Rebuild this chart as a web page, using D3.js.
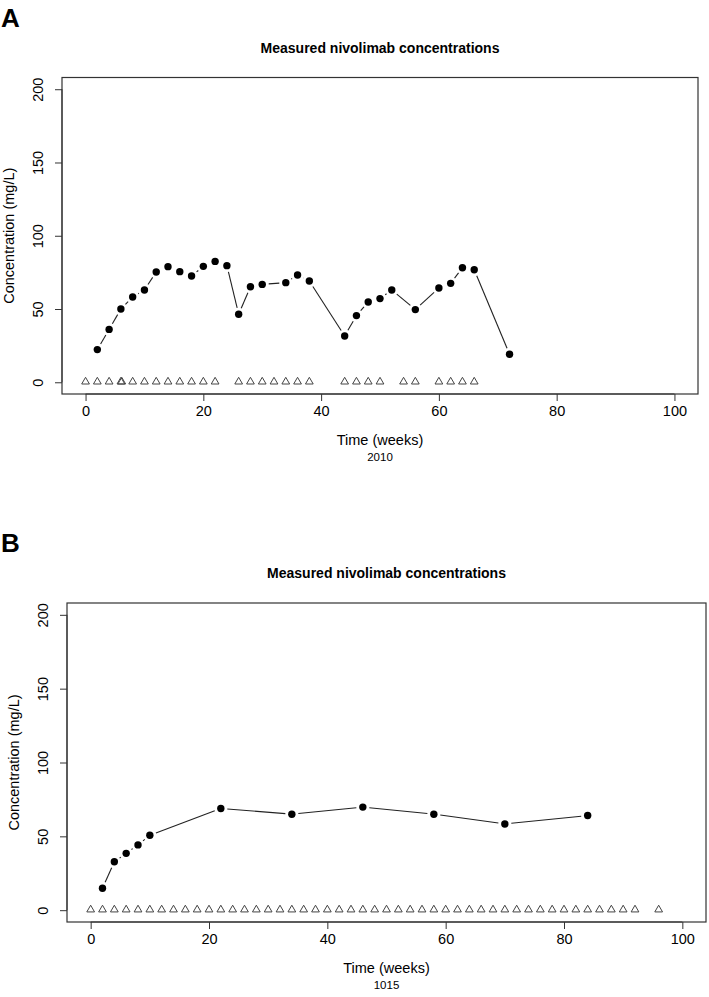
<!DOCTYPE html>
<html>
<head>
<meta charset="utf-8">
<script src="https://cdn.jsdelivr.net/npm/d3@7"></script>
<style>
  html, body { margin: 0; padding: 0; background: #fff; }
  svg { display: block; font-family: "Liberation Sans", Arial, sans-serif; }
</style>
</head>
<body>
<svg id="chart" width="709" height="997"></svg>
<script>
// ---- Data ----
const panelLabels = ["A", "B"];
const titleText = "Measured nivolimab concentrations";
const xLabel = "Time (weeks)";
const yLabel = "Concentration (mg/L)";
const subLabels = ["2010", "1015"];
const xTicks = [0, 20, 40, 60, 80, 100];
const yTicks = [0, 50, 100, 150, 200];

// Panel A: measured concentrations
const timeA = [2, 4, 6, 8, 10, 12, 14, 16, 18, 20, 22, 24, 26, 28, 30, 34, 36, 38, 44, 46, 48, 50, 52, 56, 60, 62, 64, 66, 72];
const concA = [22.3, 36.1, 50.0, 58.2, 63.0, 75.3, 78.9, 75.5, 72.5, 79.1, 82.5, 79.6, 46.4, 65.2, 66.8, 68.0, 73.2, 69.1, 31.6, 45.5, 54.8, 57.1, 63.0, 49.6, 64.3, 67.5, 78.2, 76.8, 19.1];
// Panel A: dosing times
const doseA = [0, 2, 4, 6, 6.15, 8, 10, 12, 14, 16, 18, 20, 22, 26, 28, 30, 32, 34, 36, 38, 44, 46, 48, 50, 54, 56, 60, 62, 64, 66];

// Panel B: measured concentrations
const timeB = [2, 4, 6, 8, 10, 22, 34, 46, 58, 70, 84];
const concB = [14.9, 32.8, 38.5, 44.2, 50.7, 68.9, 65.0, 69.8, 65.0, 58.4, 64.1];
// Panel B: dosing times
const doseB = [0, 2, 4, 6, 8, 10, 12, 14, 16, 18, 20, 22, 24, 26, 28, 30, 32, 34, 36, 38, 40, 42, 44, 46, 48, 50, 52, 54, 56, 58, 60, 62, 64, 66, 68, 70, 72, 74, 76, 78, 80, 82, 84, 86, 88, 90, 92, 96];

// ---- Layout (per panel) ----
const layouts = [
  { l: 62, r: 698, t: 77.5, b: 394 },
  { l: 67, r: 706, t: 603, b: 922 }
];
const panels = [
  { label: panelLabels[0], sub: subLabels[0], time: timeA, conc: concA, dose: doseA },
  { label: panelLabels[1], sub: subLabels[1], time: timeB, conc: concB, dose: doseB }
];

const svg = d3.select("#chart");
const axisColor = "#333";

panels.forEach((p, i) => {
  const L = layouts[i];
  const x = d3.scaleLinear().domain([-4, 104]).range([L.l, L.r]);
  const y = d3.scaleLinear().domain([-8, 208]).range([L.b, L.t]);
  const g = svg.append("g");

  // panel letter
  g.append("text")
    .attr("x", 1).attr("y", L.t - 60)
    .attr("dominant-baseline", "central")
    .attr("font-size", 26).attr("font-weight", "bold")
    .text(p.label);

  // title
  g.append("text")
    .attr("x", (L.l + L.r) / 2).attr("y", L.t - 30)
    .attr("text-anchor", "middle").attr("dominant-baseline", "central")
    .attr("font-size", 14).attr("font-weight", "bold")
    .text(titleText);

  // box
  g.append("rect")
    .attr("x", L.l).attr("y", L.t)
    .attr("width", L.r - L.l).attr("height", L.b - L.t)
    .attr("fill", "none").attr("stroke", axisColor).attr("stroke-width", 1.2);

  // x axis
  const xAxis = d3.axisBottom(x).tickValues(xTicks).tickSize(7).tickPadding(5).tickFormat(d3.format("d"));
  const xa = g.append("g").attr("transform", `translate(0,${L.b})`).call(xAxis);
  xa.select(".domain").attr("stroke", axisColor).attr("d", `M${x(0)},0H${x(100)}`);
  xa.selectAll(".tick line").attr("stroke", axisColor);
  xa.selectAll(".tick text").attr("font-size", 14.5).attr("fill", "#000")
    .attr("font-family", "Liberation Sans, Arial, sans-serif");

  // y axis
  const yAxis = d3.axisLeft(y).tickValues(yTicks).tickSize(7).tickFormat(d3.format("d"));
  const ya = g.append("g").attr("transform", `translate(${L.l},0)`).call(yAxis);
  ya.select(".domain").attr("stroke", axisColor).attr("d", `M0,${y(0)}V${y(200)}`);
  ya.selectAll(".tick line").attr("stroke", axisColor);
  ya.selectAll(".tick text")
    .attr("font-size", 14.5).attr("fill", "#000")
    .attr("font-family", "Liberation Sans, Arial, sans-serif")
    .attr("x", null).attr("dy", null)
    .attr("text-anchor", "middle").attr("dominant-baseline", "central")
    .attr("transform", `translate(-24,0) rotate(-90)`);

  // axis titles
  g.append("text")
    .attr("x", (L.l + L.r) / 2).attr("y", L.b + 46)
    .attr("text-anchor", "middle").attr("dominant-baseline", "central")
    .attr("font-size", 14.5).text(xLabel);
  g.append("text")
    .attr("x", (L.l + L.r) / 2).attr("y", L.b + 63)
    .attr("text-anchor", "middle").attr("dominant-baseline", "central")
    .attr("font-size", 11.5).text(p.sub);
  const ycx = L.l - 53, ycy = (L.t + L.b) / 2;
  g.append("text")
    .attr("transform", `translate(${ycx},${ycy}) rotate(-90)`)
    .attr("text-anchor", "middle").attr("dominant-baseline", "central")
    .attr("font-size", 14.5).text(yLabel);

  // type="b" lines with gaps around points
  const pts = p.time.map((t, k) => [x(t), y(p.conc[k])]);
  const gap = 6.5;
  const segs = [];
  for (let k = 0; k < pts.length - 1; k++) {
    const [x0, y0] = pts[k], [x1, y1] = pts[k + 1];
    const dx = x1 - x0, dy = y1 - y0, len = Math.hypot(dx, dy);
    if (len > 2 * gap) {
      const ux = dx / len, uy = dy / len;
      segs.push([x0 + ux * gap, y0 + uy * gap, x1 - ux * gap, y1 - uy * gap]);
    }
  }
  g.selectAll("line.seg").data(segs).join("line").attr("class", "seg")
    .attr("x1", d => d[0]).attr("y1", d => d[1]).attr("x2", d => d[2]).attr("y2", d => d[3])
    .attr("stroke", "#222").attr("stroke-width", 1.1);

  // points
  g.selectAll("circle.pt").data(p.time).join("circle").attr("class", "pt")
    .attr("cx", (t) => x(t)).attr("cy", (t, k) => y(p.conc[k]))
    .attr("r", 3.7).attr("fill", "#000");

  // dose triangles at 0
  const tri = d3.symbol().type(d3.symbolTriangle).size(26);
  g.selectAll("path.dose").data(p.dose).join("path").attr("class", "dose")
    .attr("d", tri)
    .attr("transform", d => `translate(${x(d)},${y(0) - 0.5})`)
    .attr("fill", "none").attr("stroke", "#444").attr("stroke-width", 1);
});
</script>
</body>
</html>
